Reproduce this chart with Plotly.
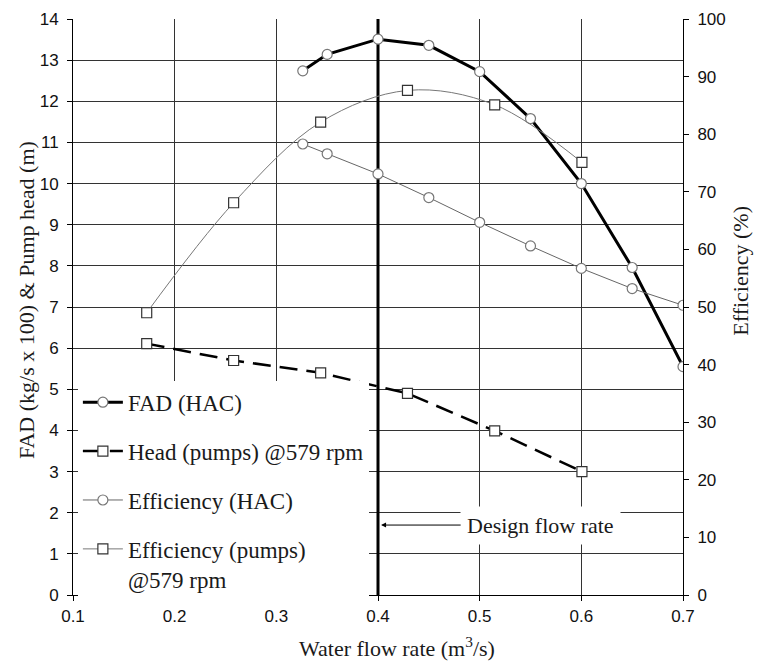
import plotly.graph_objects as go

# values
flow_hac = [0.326, 0.35, 0.40, 0.45, 0.50, 0.55, 0.60, 0.65, 0.70]
fad_hac = [12.74, 13.14, 13.51, 13.36, 12.72, 11.58, 10.0, 7.96, 5.55]
eff_hac = [78.3, 76.6, 73.1, 69.0, 64.7, 60.6, 56.7, 53.2, 50.3]

flow_pumps = [0.1725, 0.258, 0.3436, 0.429, 0.5148, 0.6006]
head_pumps = [6.11, 5.70, 5.40, 4.90, 3.99, 3.00]
eff_pumps = [49.0, 68.1, 82.1, 87.6, 85.1, 75.1]

design_flow = 0.4
design_label_pos = (0.56, 1.70)

serif = "Liberation Serif"
sans = "Liberation Sans"
grid_col = "#333333"
txt_col = "#1a1a1a"

fig = go.Figure()

fig.add_trace(go.Scatter(x=flow_hac, y=fad_hac, mode="lines+markers", name="FAD (HAC)",
                         legendgroup="a", line=dict(color="black", width=3),
                         marker=dict(symbol="circle", size=10, color="white", line=dict(color="#777777", width=1.2))))
fig.add_trace(go.Scatter(x=flow_pumps, y=head_pumps, mode="lines+markers", name="Head (pumps) @579 rpm",
                         legendgroup="b", line=dict(color="black", width=2.5, dash="18px,9px"),
                         marker=dict(symbol="square", size=10, color="white", line=dict(color="#333333", width=1.2))))
fig.add_trace(go.Scatter(x=flow_hac, y=eff_hac, mode="lines+markers", name="Efficiency (HAC)",
                         legendgroup="c", yaxis="y2", line=dict(color="#666666", width=1),
                         marker=dict(symbol="circle", size=10, color="white", line=dict(color="#777777", width=1.2))))
fig.add_trace(go.Scatter(x=flow_pumps, y=eff_pumps, mode="lines+markers", name="Efficiency (pumps)<br>@579 rpm",
                         legendgroup="d", yaxis="y2", line=dict(color="#777777", width=1, shape="spline", smoothing=1.0),
                         marker=dict(symbol="square", size=10, color="white", line=dict(color="#333333", width=1.2))))

fig.add_shape(type="line", x0=design_flow, x1=design_flow, y0=0, y1=14, xref="x", yref="y",
              line=dict(color="black", width=3), layer="between")

fig.add_annotation(x=design_flow + 0.003, y=design_label_pos[1], ax=design_label_pos[0], ay=design_label_pos[1],
                   xref="x", yref="y", axref="x", ayref="y", text="Design flow rate",
                   font=dict(family=serif, size=22, color=txt_col), bgcolor="white", borderpad=6,
                   showarrow=True, arrowhead=2, arrowsize=1, arrowwidth=1, arrowcolor="black")

fig.add_annotation(x=-0.077, y=0.512, xref="paper", yref="paper", text="FAD (kg/s x 100) & Pump head (m)",
                   xanchor="center", yanchor="middle", textangle=-90, showarrow=False,
                   font=dict(family=serif, size=22, color=txt_col))
fig.add_annotation(x=1.093, y=0.5625, xref="paper", yref="paper", text="Efficiency (%)",
                   xanchor="center", yanchor="middle", textangle=-90, showarrow=False,
                   font=dict(family=serif, size=22, color=txt_col))
fig.add_annotation(x=0.531, y=-0.09, xref="paper", yref="paper", text="Water flow rate (m<sup>3</sup>/s)",
                   xanchor="center", yanchor="middle", showarrow=False,
                   font=dict(family=serif, size=22, color=txt_col))

# page body adds 8px margin, so the figure is 8px smaller and shifted
fig.update_layout(
    width=754, height=654,
    margin=dict(l=65, r=79, t=11, b=67, autoexpand=False),
    plot_bgcolor="white", paper_bgcolor="white",
    font=dict(family=sans, size=17, color="#111111"),
    legend=dict(x=0.008, y=0.372, xanchor="left", yanchor="top", bgcolor="white",
                font=dict(family=serif, size=23, color=txt_col), traceorder="grouped",
                tracegroupgap=16, itemwidth=40, valign="top"),
    xaxis=dict(range=[0.1, 0.7], dtick=0.1, tick0=0.1, tickformat=".1f", showgrid=True, gridcolor=grid_col,
               gridwidth=1, zeroline=False, showline=True, linecolor="black", linewidth=1, automargin=False,
               ticks="outside", ticklen=5, tickcolor="black", ticklabelstandoff=1),
    yaxis=dict(range=[0, 14], dtick=1, showgrid=True, gridcolor=grid_col, gridwidth=1, zeroline=False,
               showline=True, linecolor="black", linewidth=1, ticks="outside", ticklen=5, tickcolor="black",
               ticklabelstandoff=5, automargin=False),
    yaxis2=dict(range=[0, 100], dtick=10, overlaying="y", side="right", showgrid=False, zeroline=False,
                showline=True, linecolor="black", linewidth=1, ticks="outside", ticklen=5, tickcolor="black",
                ticklabelstandoff=5, automargin=False),
    yaxis3=dict(range=[0, 100], dtick=10, overlaying="y", side="right", showgrid=False, zeroline=False,
                showline=False, ticks="inside", ticklen=5, tickcolor="black", showticklabels=False,
                automargin=False),
)

fig.write_html("out.html")
